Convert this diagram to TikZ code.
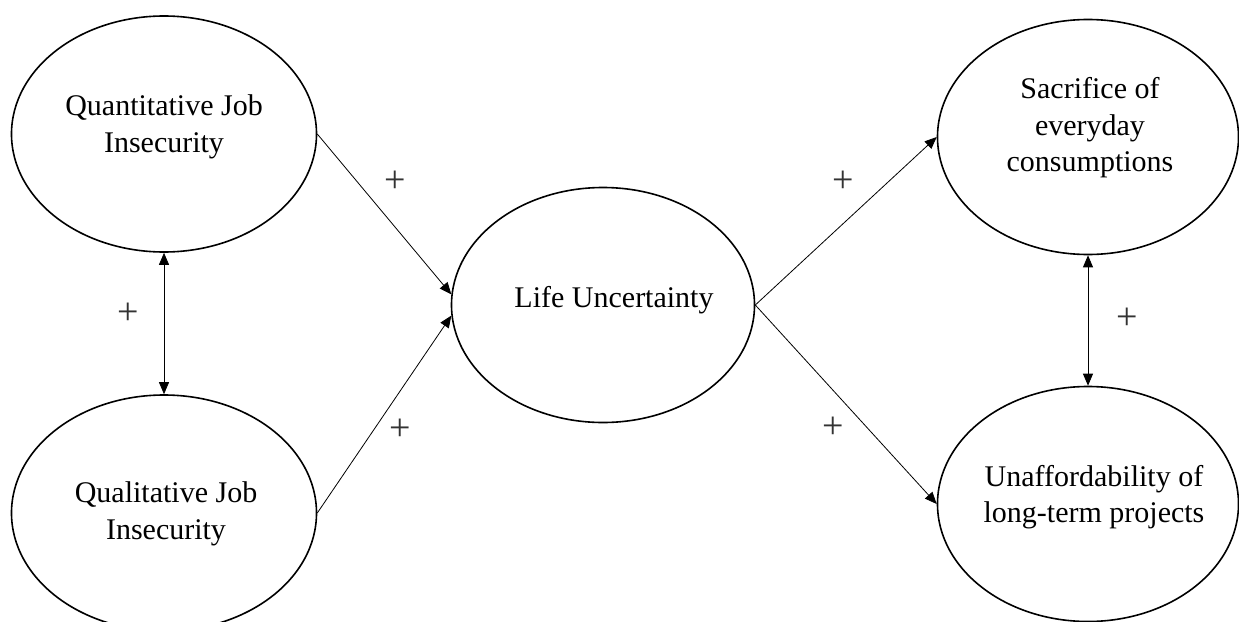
\documentclass[tikz,border=0pt]{standalone}
\usepackage{fontspec}
\setmainfont{Liberation Serif}
\usetikzlibrary{shapes.geometric,arrows.meta}
\begin{document}
\begin{tikzpicture}[x=1pt,y=-1pt,
  oval/.style={draw,ellipse,line width=1.6pt,inner sep=0pt},
  lbl/.style={align=center,font=\fontsize{30pt}{36.5pt}\selectfont},
  sign/.style={font=\fontsize{38pt}{40pt}\selectfont,text=black!80,inner sep=0pt},
  conn/.style={line width=0.8pt,-{Triangle[length=12pt,width=10pt]}},
  biconn/.style={line width=0.8pt,{Triangle[length=12pt,width=10pt]}-{Triangle[length=12pt,width=10pt]}}]
\useasboundingbox (0,0) rectangle (1239,621);
\node[oval,minimum width=305pt,minimum height=236pt,
  label={[lbl,yshift=7pt]center:Quantitative Job\\Insecurity}] (quant) at (164,134) {};
\node[oval,minimum width=305pt,minimum height=236pt,
  label={[lbl,yshift=-1pt,xshift=2pt]center:Qualitative Job\\Insecurity}] (qual) at (164,513) {};
\node[oval,minimum width=303pt,minimum height=235pt,
  label={[lbl,yshift=5pt,xshift=11pt]center:Life Uncertainty}] (life) at (603,305) {};
\node[oval,minimum width=301pt,minimum height=235pt,
  label={[lbl,yshift=9pt,xshift=2pt]center:Sacrifice of\\everyday\\consumptions}] (sac) at (1088,137) {};
\node[oval,minimum width=301pt,minimum height=235pt,
  label={[lbl,yshift=7pt,xshift=6pt]center:Unaffordability of\\long-term projects}] (unaff) at (1088,504) {};
\draw[conn] (quant.east) -- (life.176);
\draw[conn] (qual.east) -- (life.184);
\draw[conn] (life.east) -- (sac.west);
\draw[conn] (life.east) -- (unaff.west);
\draw[biconn] (quant.south) -- (qual.north);
\draw[biconn] (sac.south) -- (unaff.north);
\node[sign] (p1) at (395,182) {+};
\node[sign] (p2) at (128,314) {+};
\node[sign] (p3) at (400,430) {+};
\node[sign] (p4) at (843,182) {+};
\node[sign] (p5) at (833,428) {+};
\node[sign] (p6) at (1127,319) {+};
\end{tikzpicture}
\end{document}
